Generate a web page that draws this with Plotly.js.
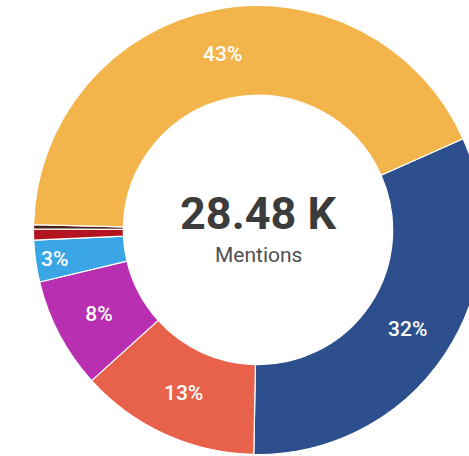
<!DOCTYPE html>
<html>
<head>
<meta charset="utf-8">
<script src="https://cdn.plot.ly/plotly-3.0.1.min.js"></script>
<style>
html,body{margin:0;padding:0;background:#fff;overflow:hidden;width:469px;height:456px;}
#chart{width:516px;height:460px;}
</style>
</head>
<body>
<div id="chart"></div>
<script>
// Data (clockwise order starting at the blue slice)
const categories = ["Blue", "Orange", "Magenta", "Light blue", "Dark red", "Brown", "Yellow"];
const shares = [32, 13, 8, 3, 0.8, 0.3, 43];
const colors = ["#2D4F8E", "#E8624B", "#B82FB2", "#3AA6E6", "#B3141F", "#4A2016", "#F3B44C"];
const totalLabel = "28.48 K";
const subLabel = "Mentions";

const total = shares.reduce((a, b) => a + b, 0);
const texts = shares.map(v => (v / total >= 0.02 ? Math.round(v / total * 100) + "%" : ""));

const trace = {
  type: "pie",
  labels: categories,
  values: shares,
  text: texts,
  textinfo: "text",
  textposition: "inside",
  insidetextorientation: "horizontal",
  hole: 0.6,
  sort: false,
  direction: "clockwise",
  rotation: 66,
  domain: {x: [0, 1], y: [0.012, 0.988]},
  marker: {colors: colors, line: {color: "#ffffff", width: 1.2}},
  textfont: {family: "Roboto, sans-serif", size: 21, color: "#ffffff", weight: 500},
  showlegend: false,
  hoverinfo: "label+percent"
};

const layout = {
  width: 516,
  height: 460,
  margin: {l: 0, r: 0, t: 0, b: 0},
  paper_bgcolor: "#ffffff",
  showlegend: false,
  annotations: [
    {text: "<b>" + totalLabel + "</b>", x: 0.5, y: 0.535, xref: "paper", yref: "paper", showarrow: false,
     font: {family: "Roboto, sans-serif", size: 45, color: "#3C3C3C"}},
    {text: subLabel, x: 0.5, y: 0.445, xref: "paper", yref: "paper", showarrow: false,
     font: {family: "Roboto, sans-serif", size: 21, color: "#505050"}}
  ]
};

Plotly.newPlot("chart", [trace], layout, {displayModeBar: false, staticPlot: true});
</script>
</body>
</html>
